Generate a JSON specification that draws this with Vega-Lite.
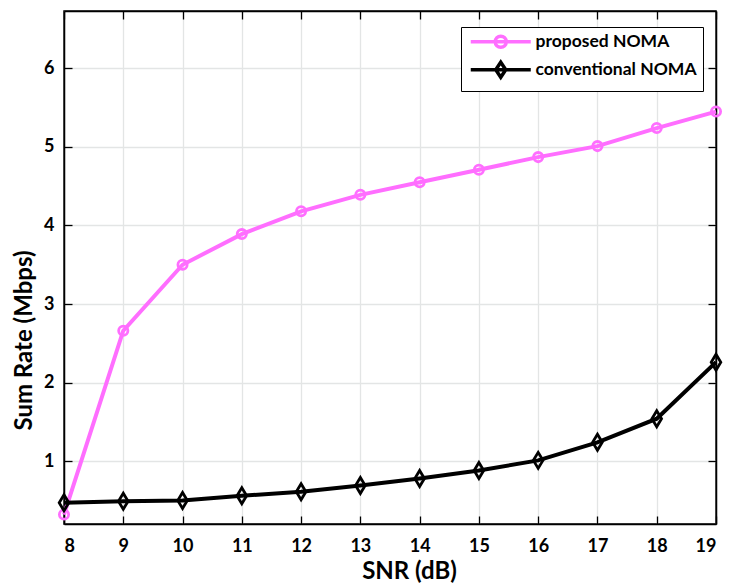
{
  "$schema": "https://vega.github.io/schema/vega-lite/v6.json",
  "width": 652,
  "height": 513,
  "autosize": {"type": "none"},
  "padding": {"left": 64, "top": 11, "right": 13, "bottom": 61},
  "background": "white",
  "config": {
    "font": "Lato",
    "view": {"stroke": "black", "strokeWidth": 1.5},
    "axis": {"labelFont": "Lato", "titleFont": "Lato", "labelFontWeight": "bold", "titleFontWeight": "bold", "labelFontSize": 18, "titleFontSize": 24, "labelColor": "black", "titleColor": "black", "domainColor": "black", "domainWidth": 1.5, "tickColor": "black", "tickWidth": 1.3, "gridColor": "#e3e5e5", "gridWidth": 1.3}
  },
  "data": {"values": [
    {"snr": 8, "rate": 0.32, "series": "proposed NOMA"},
    {"snr": 9, "rate": 2.66, "series": "proposed NOMA"},
    {"snr": 10, "rate": 3.50, "series": "proposed NOMA"},
    {"snr": 11, "rate": 3.89, "series": "proposed NOMA"},
    {"snr": 12, "rate": 4.18, "series": "proposed NOMA"},
    {"snr": 13, "rate": 4.39, "series": "proposed NOMA"},
    {"snr": 14, "rate": 4.55, "series": "proposed NOMA"},
    {"snr": 15, "rate": 4.71, "series": "proposed NOMA"},
    {"snr": 16, "rate": 4.87, "series": "proposed NOMA"},
    {"snr": 17, "rate": 5.01, "series": "proposed NOMA"},
    {"snr": 18, "rate": 5.24, "series": "proposed NOMA"},
    {"snr": 19, "rate": 5.45, "series": "proposed NOMA"},
    {"snr": 8, "rate": 0.47, "series": "conventional NOMA"},
    {"snr": 9, "rate": 0.49, "series": "conventional NOMA"},
    {"snr": 10, "rate": 0.50, "series": "conventional NOMA"},
    {"snr": 11, "rate": 0.56, "series": "conventional NOMA"},
    {"snr": 12, "rate": 0.61, "series": "conventional NOMA"},
    {"snr": 13, "rate": 0.69, "series": "conventional NOMA"},
    {"snr": 14, "rate": 0.78, "series": "conventional NOMA"},
    {"snr": 15, "rate": 0.88, "series": "conventional NOMA"},
    {"snr": 16, "rate": 1.01, "series": "conventional NOMA"},
    {"snr": 17, "rate": 1.24, "series": "conventional NOMA"},
    {"snr": 18, "rate": 1.54, "series": "conventional NOMA"},
    {"snr": 19, "rate": 2.26, "series": "conventional NOMA"}
  ]},
  "resolve": {"axis": {"x": "independent", "y": "independent"}},
  "layer": [
    {
      "mark": {"type": "line", "strokeWidth": 4},
      "encoding": {
        "x": {"field": "snr", "type": "quantitative", "scale": {"domain": [8, 19], "nice": false, "zero": false},
              "axis": {"title": "SNR (dB)", "values": [8,9,10,11,12,13,14,15,16,17,18,19], "grid": true, "tickSize": -8, "labelPadding": 21, "titleX": 345, "titleY": 47, "titleBaseline": "middle"}},
        "y": {"field": "rate", "type": "quantitative", "scale": {"domain": [0.2, 6.73], "nice": false, "zero": false},
              "axis": {"title": "Sum Rate (Mbps)", "values": [1,2,3,4,5,6], "grid": true, "tickSize": -8, "labelPadding": 18, "titleX": -40, "titleY": 329, "titleBaseline": "middle"}},
        "color": {"field": "series", "type": "nominal",
                  "scale": {"domain": ["proposed NOMA", "conventional NOMA"], "range": ["#ff6eff", "#000000"]},
                  "legend": {"title": null, "orient": "none", "legendX": 397, "legendY": 16,
                             "strokeColor": "black", "fillColor": "white", "padding": 6,
                             "symbolType": "M-6,0H6", "symbolSize": 100, "symbolStrokeWidth": 3.5, "symbolOffset": 25, "symbolFillColor": "transparent",
                             "labelFont": "Lato", "labelFontWeight": "bold", "labelFontSize": 17.5, "labelColor": "black", "labelOffset": 26, "labelLimit": 400, "rowPadding": 0,
                             "encode": {"symbols": {"update": {"fill": {"value": "transparent"}, "shape": {"signal": "datum.value === 'proposed NOMA' ? 'M-6,0H6M-1.1,0A1.1,1.1,0,1,1,1.1,0A1.1,1.1,0,1,1,-1.1,0' : 'M-6,0H6M0,-1.5L1,0L0,1.5L-1,0Z'"}}}}}}
      }
    },
    {
      "transform": [{"filter": "datum.series === 'proposed NOMA'"}],
      "mark": {"type": "point", "filled": false, "strokeWidth": 2.8, "opacity": 1, "shape": "circle", "size": 85, "color": "#ff6eff"},
      "encoding": {
        "x": {"field": "snr", "type": "quantitative", "axis": {"orient": "top", "title": null, "labels": false, "grid": false, "tickSize": -8, "values": [8,9,10,11,12,13,14,15,16,17,18,19]}},
        "y": {"field": "rate", "type": "quantitative", "axis": {"orient": "right", "title": null, "labels": false, "grid": false, "tickSize": -8, "values": [1,2,3,4,5,6]}}
      }
    },
    {
      "transform": [{"filter": "datum.series === 'conventional NOMA'"}],
      "mark": {"type": "point", "filled": false, "strokeWidth": 2.8, "opacity": 1, "shape": "M0,-1L0.6,0L0,1L-0.6,0Z", "size": 256, "color": "#000000"},
      "encoding": {
        "x": {"field": "snr", "type": "quantitative", "axis": null},
        "y": {"field": "rate", "type": "quantitative", "axis": null}
      }
    }
  ]
}
